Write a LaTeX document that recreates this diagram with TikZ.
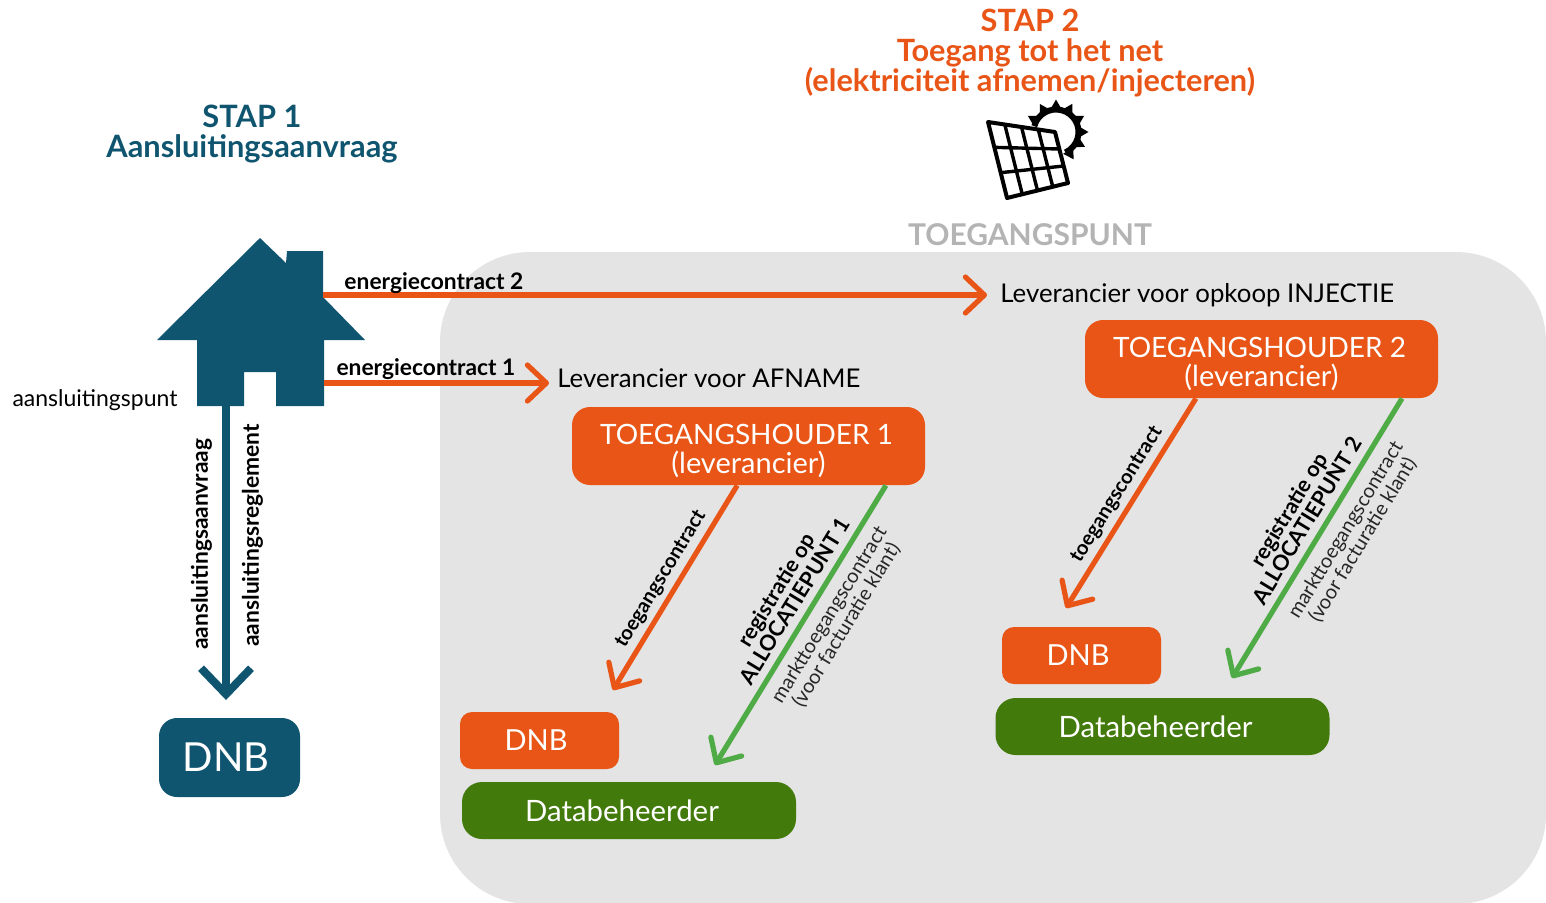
\documentclass[tikz,border=0pt]{standalone}
\usepackage{fontspec}
\setmainfont{Lato}
\usepackage{tikz}
\usetikzlibrary{arrows.meta,calc}
\definecolor{teal1}{HTML}{10556F}
\definecolor{orange1}{HTML}{E85516}
\definecolor{green1}{HTML}{437A0C}
\definecolor{green2}{HTML}{4FAB45}
\definecolor{grey1}{HTML}{E4E4E4}
\definecolor{grey2}{HTML}{B4B4B4}

\begin{document}
\begin{tikzpicture}[x=0.5pt, y=-0.5pt,
  box/.style = {draw=none, rounded corners=9pt, text=white, align=center, inner sep=0pt, font=\fontsize{14.5}{14.5}\selectfont},
  houder/.style = {box, fill=orange1, minimum width=176.5pt, minimum height=39pt},
  dnb/.style = {box, fill=orange1, rounded corners=6pt, minimum width=79.5pt, minimum height=28.5pt},
  beheer/.style = {box, fill=green1, rounded corners=10pt, minimum width=167pt, minimum height=28.5pt, font=\fontsize{14.7}{14.7}\selectfont},
  lab/.style = {inner sep=0pt, align=center, text=black, font=\fontsize{11.4}{11.4}\selectfont\bfseries},
  lab2/.style = {lab, font=\fontsize{10.1}{10.1}\selectfont\bfseries},
  lab3/.style = {lab, font=\fontsize{10.8}{10.8}\selectfont\bfseries},
  small/.style = {inner sep=0pt, align=center, text=black!85, font=\fontsize{10}{10}\selectfont},
  lever/.style = {inner sep=0pt, anchor=west, font=\fontsize{12.9}{13}\selectfont},
  pijl/.style = {line width=2.6pt, -{Straight Barb[length=9.5pt,width=18pt,round]}}]
\clip[use as bounding box] (0,0) rectangle (1546,902);
\fill[grey1, rounded corners=45pt] (440,252) rectangle (1546,904);

\node[inner sep=0pt, align=center, text=teal1, font=\fontsize{15.4}{15}\selectfont\bfseries] (stap1) at (252,134) {STAP 1\\Aansluitingsaanvraag};
\node[inner sep=0pt, align=center, text=orange1, font=\fontsize{15.35}{15}\selectfont\bfseries] (stap2) at (1030,53) {STAP 2\\Toegang tot het net\\(elektriciteit afnemen/injecteren)};
\node[inner sep=0pt, text=grey2, font=\fontsize{15}{15}\selectfont\bfseries] (punt) at (1030,235) {TOEGANGSPUNT};

% zon
\coordinate (zon) at (1056,132);
\draw[line width=3pt] (zon) ++(-165:22.5) arc[start angle=-165, end angle=65, radius=22.5];
\foreach \a in {-57,-27,0,30,60,90,120,150} {
  \fill ($(zon)+(-\a-15:23)$) -- ($(zon)+(-\a:32.5)$) -- ($(zon)+(-\a+15:23)$) -- cycle;
}
% paneel
\coordinate (pa) at (988,122);
\coordinate (pb) at (1055,132);
\coordinate (pc) at (1068,183);
\coordinate (pd) at (1007,198);
\draw[fill=white, line width=2pt, line join=round] (pa) -- (pb) -- (pc) -- (pd) -- cycle;
\foreach \i in {1,2,3} {
  \draw[line width=1.7pt] ($(pa)!\i/4!(pb)$) -- ($(pd)!\i/4!(pc)$);
}
\foreach \i in {1,2} {
  \draw[line width=1.7pt] ($(pa)!\i/3!(pd)$) -- ($(pb)!\i/3!(pc)$);
}

% huis
\fill[teal1, line join=round] (260,238) -- (286,263) -- (287,251) -- (323,251) -- (323,297) -- (365,340) -- (324,340) -- (324,406) -- (276,406) -- (276,372) -- (244,372) -- (244,406) -- (197,406) -- (197,340) -- (157,340) -- cycle;
\coordinate (h1) at (323,295);
\coordinate (h2) at (324,383);
\coordinate (h3) at (226,406);
\coordinate (tip1) at (226,700);

\node[inner sep=0pt, font=\fontsize{11.5}{11.5}\selectfont] (aansl) at (95,400) {aansluitingspunt};
\node[box, fill=teal1, minimum width=70.5pt, minimum height=39.5pt, font=\fontsize{20}{20}\selectfont] (dnb0) at (229.5,757.5) {DNB\hspace*{3.5pt}};

\node[lever] (lev1) at (557,378) {Leverancier voor AFNAME};
\node[lever] (lev2) at (1000,295) {Leverancier voor opkoop INJECTIE};
\coordinate (e1) at (549,383);
\coordinate (e2) at (987,295);

\node[houder] (th1) at (748.5,446) {\rule{0pt}{15.5pt}\fontsize{14}{14.5}\selectfont TOEGANGSHOUDER 1\hspace*{2pt}\\(leverancier)};
\node[houder] (th2) at (1261.5,359) {\rule{0pt}{15.5pt}\fontsize{14}{14.5}\selectfont TOEGANGSHOUDER 2\hspace*{2pt}\\(leverancier)};
\node[dnb] (dnb1) at (539.5,740.5) {DNB\hspace*{3.5pt}};
\node[dnb] (dnb2) at (1081.5,655.5) {DNB\hspace*{3.5pt}};
\node[beheer] (db1) at (629,810.5) {Databeheerder\hspace*{7pt}};
\node[beheer] (db2) at (1162.5,726.5) {Databeheerder\hspace*{7pt}};

\coordinate (p1) at (613,690);
\coordinate (p2) at (715,765);
\coordinate (p3) at (1066,608);
\coordinate (p4) at (1232,678);

\draw[pijl, orange1] (h1) -- node[pos=.167, above=-.5pt, lab] {energiecontract 2} (e2);
\draw[pijl, orange1] (h2) -- node[pos=.453, above=.5pt, lab] {energiecontract 1} (e1);
\draw[pijl, teal1, line width=4pt, -{Straight Barb[length=13pt,width=25pt]}] (h3) -- node[pos=.47, left=5pt, lab, rotate=90, anchor=south] {aansluitingsaanvraag} node[pos=.44, right=6pt, lab, rotate=90, anchor=north] {aansluitingsreglement} (tip1);

\draw[pijl, orange1] (th1.-106) -- node[pos=.5, sloped, above=2.5pt, lab2] {toegangscontract} (p1);
\draw[pijl, green2] (th1.-16) -- node[pos=.446, sloped, above=3.5pt, lab3] {registratie op\\ALLOCATIEPUNT 1} node[pos=.427, sloped, below=4pt, small] {markttoegangscontract\\(voor facturatie klant)} (p2);
\draw[pijl, orange1] (th2.-149) -- node[pos=.5, sloped, above=2.5pt, lab2] {toegangscontract} (p3);
\draw[pijl, green2] ($(th2.south)+(140.5,0)$) -- node[pos=.47, sloped, above=3.5pt, lab3] {registratie op\\ALLOCATIEPUNT 2} node[pos=.433, sloped, below=4.5pt, small] {markttoegangscontract\\(voor facturatie klant)} (p4);
\end{tikzpicture}
\end{document}
